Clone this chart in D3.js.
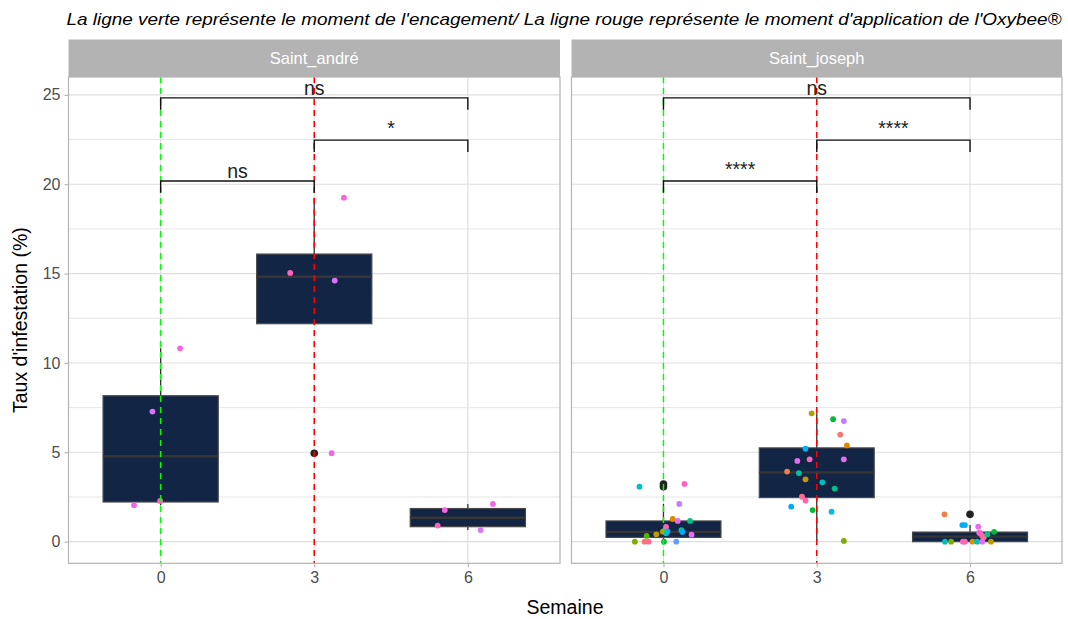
<!DOCTYPE html>
<html>
<head>
<meta charset="utf-8">
<script src="https://cdn.jsdelivr.net/npm/d3@7"></script>
<style>
  body { margin: 0; background: #fff; }
  text { font-family: "Liberation Sans", Arial, sans-serif; }
</style>
</head>
<body>
<script>
const width = 1068;
const height = 619;

// Saint_andré : semaine (groupe), position jitter, taux, couleur de la ruche
const andreGroupe = [0, 0, 0, 0, 3, 3, 3, 3, 6, 6, 6, 6];
const andreX = [-0.52, -0.01, -0.16, 0.38, 3.58, 2.53, 3.40, 3.34, 5.55, 5.41, 6.25, 6.49];
const andreTaux = [2.04, 2.28, 7.28, 10.82, 19.25, 15.04, 14.61, 4.95, 1.77, 0.90, 0.65, 2.11];
const andreCouleur = ["#F564E3", "#FF61C3", "#DB72FB", "#F564E3", "#F564E3", "#FF61C3", "#DB72FB", "#F564E3",
  "#F564E3", "#FF61C3", "#DB72FB", "#F564E3"];

// Saint_joseph
const josephGroupe = [
  0, 0, 0, 0, 0, 0, 0, 0, 0, 0, 0, 0, 0, 0, 0, 0, 0, 0, 0, 0,
  3, 3, 3, 3, 3, 3, 3, 3, 3, 3, 3, 3, 3, 3, 3, 3, 3, 3, 3, 3,
  6, 6, 6, 6, 6, 6, 6, 6, 6, 6, 6, 6, 6, 6, 6, 6, 6, 6];
const josephX = [
  -0.47, 0.41, 0.31, 0.18, 0.28, 0.52, 0.05, 0.08, 0.35, 0.37, 0.55, -0.14, -0.01, 0.05, -0.33, -0.56, -0.37, -0.29, 0.01, 0.25,
  2.90, 3.32, 3.53, 3.46, 3.59, 2.78, 2.62, 2.86, 3.53, 2.42, 2.65, 2.78, 3.11, 3.35, 2.71, 2.78, 2.50, 2.92, 3.29, 3.53,
  5.50, 5.85, 5.90, 6.16, 6.18, 6.20, 6.24, 6.27, 6.34, 6.47, 5.51, 5.63, 5.86, 5.90, 6.05, 6.14, 6.24, 6.41];
const josephTaux = [
  3.08, 3.23, 2.11, 1.27, 1.16, 1.16, 0.82, 0.58, 0.65, 0.54, 0.39, 0.41, 0.56, 0.47, 0.32, 0, 0, 0, 0, 0,
  7.18, 6.85, 6.75, 5.99, 5.39, 5.20, 4.52, 4.61, 4.61, 3.92, 3.84, 3.49, 3.32, 2.97, 2.52, 2.30, 1.96, 1.77, 1.68, 0.04,
  1.53, 0.93, 0.93, 0.84, 0.50, 0.47, 0.32, 0.25, 0.42, 0.55, 0, 0, 0, 0, 0, 0, 0, 0];
const josephCouleur = [
  "#00BFC4", "#FF61C3", "#C77CFF", "#E58700", "#E76BF3", "#00C08B", "#FF61C3", "#00B0F6", "#00C1A3", "#00A9FF",
  "#E76BF3", "#C49A00", "#C49A00", "#00BCD8", "#53B400", "#7CAE00", "#F8766D", "#FF6C91", "#00BA38", "#619CFF",
  "#B79F00", "#00BA38", "#C77CFF", "#F8766D", "#E58700", "#00B0F6", "#E76BF3", "#FF61C3", "#E76BF3", "#F07E45",
  "#00C1A3", "#C49A00", "#00BFC4", "#00C08B", "#FF6C91", "#FF64B0", "#00A9FF", "#00BA38", "#00BCD8", "#7CAE00",
  "#F07E45", "#00A9FF", "#00B0F6", "#E76BF3", "#DB72FB", "#FF61C3", "#FF64B0", "#FF6C91", "#00C08B", "#00BA38",
  "#00BFC4", "#7CAE00", "#FF61C3", "#FF64B0", "#C49A00", "#00BFC4", "#E76BF3", "#C49A00"];

// comparaisons (ggpubr)
const crochetDe = [0, 3, 0];
const crochetA = [6, 6, 3];
const crochetY = [24.83, 22.47, 20.18];
const andreSignif = ["ns", "*", "ns"];
const josephSignif = ["ns", "****", "****"];

const semaines = [0, 3, 6];
const yTicks = [0, 5, 10, 15, 20, 25];
const yMinor = [2.5, 7.5, 12.5, 17.5, 22.5];

const panels = [
  { nom: "Saint_andré", x0: 68.5, x1: 560, groupe: andreGroupe, xs: andreX, taux: andreTaux, col: andreCouleur, signif: andreSignif },
  { nom: "Saint_joseph", x0: 571.5, x1: 1062, groupe: josephGroupe, xs: josephX, taux: josephTaux, col: josephCouleur, signif: josephSignif }
];

const stripTop = 39.5, panelTop = 77, panelBottom = 563.3;

const svg = d3.select("body").append("svg").attr("width", width).attr("height", height);

const y = d3.scaleLinear().domain([-1.21, 26.0]).range([panelBottom, panelTop]);

// titre
const title = svg.append("text")
  .attr("x", 66.5).attr("y", 25)
  .attr("font-size", 16.5).attr("font-style", "italic").attr("fill", "#000")
  .text("La ligne verte représente le moment de l'encagement/ La ligne rouge représente le moment d'application de l'Oxybee®");
title.attr("textLength", 995).attr("lengthAdjust", "spacingAndGlyphs");

function boxStats(vals) {
  const s = vals.slice().sort(d3.ascending);
  const q1 = d3.quantile(s, 0.25), med = d3.quantile(s, 0.5), q3 = d3.quantile(s, 0.75);
  const iqr = q3 - q1;
  const inside = s.filter(v => v >= q1 - 1.5 * iqr && v <= q3 + 1.5 * iqr);
  return { q1, med, q3, lo: d3.min(inside), hi: d3.max(inside), out: s.filter(v => v < q1 - 1.5 * iqr || v > q3 + 1.5 * iqr) };
}

panels.forEach((p, pi) => {
  const x = d3.scaleLinear().domain([-1.8, 7.8]).range([p.x0, p.x1]);
  const g = svg.append("g");

  // strip
  g.append("rect").attr("x", p.x0).attr("y", stripTop).attr("width", p.x1 - p.x0).attr("height", panelTop - stripTop)
    .attr("fill", "#B3B3B3");
  g.append("text").attr("x", (p.x0 + p.x1) / 2).attr("y", (stripTop + panelTop) / 2 + 6)
    .attr("text-anchor", "middle").attr("font-size", 16.5).attr("fill", "#fff").text(p.nom);

  // grille
  g.selectAll(".minor").data(yMinor).join("line")
    .attr("x1", p.x0).attr("x2", p.x1).attr("y1", d => y(d)).attr("y2", d => y(d))
    .attr("stroke", "#E3E3E3").attr("stroke-width", 0.9);
  g.selectAll(".major").data(yTicks).join("line")
    .attr("x1", p.x0).attr("x2", p.x1).attr("y1", d => y(d)).attr("y2", d => y(d))
    .attr("stroke", "#DEDEDE").attr("stroke-width", 1.1);
  g.selectAll(".vmajor").data(semaines).join("line")
    .attr("x1", d => x(d)).attr("x2", d => x(d)).attr("y1", panelTop).attr("y2", panelBottom)
    .attr("stroke", "#DEDEDE").attr("stroke-width", 1.1);

  // boîtes
  semaines.forEach(s => {
    const vals = p.taux.filter((v, i) => p.groupe[i] === s);
    const b = boxStats(vals);
    const cx = x(s), half = x(s + 1.125) - cx;
    g.append("line").attr("x1", cx).attr("x2", cx).attr("y1", y(b.q3)).attr("y2", y(b.hi))
      .attr("stroke", "#333").attr("stroke-width", 1.3);
    g.append("line").attr("x1", cx).attr("x2", cx).attr("y1", y(b.q1)).attr("y2", y(b.lo))
      .attr("stroke", "#333").attr("stroke-width", 1.3);
    g.append("rect").attr("x", cx - half).attr("y", y(b.q3)).attr("width", 2 * half).attr("height", y(b.q1) - y(b.q3))
      .attr("fill", "#132545").attr("stroke", "#4a4a4a").attr("stroke-width", 1.2);
    g.append("line").attr("x1", cx - half).attr("x2", cx + half).attr("y1", y(b.med)).attr("y2", y(b.med))
      .attr("stroke", "#363636").attr("stroke-width", 2.4);
    g.selectAll(null).data(b.out).join("circle")
      .attr("cx", cx).attr("cy", d => y(d)).attr("r", 3.8).attr("fill", "#222");
  });

  // points jitter
  g.selectAll(".pt").data(p.taux).join("circle")
    .attr("cx", (d, i) => x(p.xs[i])).attr("cy", d => y(d)).attr("r", 2.9)
    .attr("fill", (d, i) => p.col[i]);

  // lignes verticales
  g.append("line").attr("x1", x(0)).attr("x2", x(0)).attr("y1", panelTop).attr("y2", panelBottom)
    .attr("stroke", "#00FF00").attr("stroke-width", 1.5).attr("stroke-dasharray", "6,5");
  g.append("line").attr("x1", x(3)).attr("x2", x(3)).attr("y1", panelTop).attr("y2", panelBottom)
    .attr("stroke", "#FF0000").attr("stroke-width", 1.5).attr("stroke-dasharray", "6,5");

  // crochets
  crochetY.forEach((cy, k) => {
    const xa = x(crochetDe[k]), xb = x(crochetA[k]);
    g.append("path")
      .attr("d", `M${xa},${y(cy - 0.66)}V${y(cy)}H${xb}V${y(cy - 0.66)}`)
      .attr("fill", "none").attr("stroke", "#111").attr("stroke-width", 1.4);
    const lab = p.signif[k];
    g.append("text").attr("x", (xa + xb) / 2).attr("y", lab === "ns" ? y(cy) - 3 : y(cy) - 5)
      .attr("text-anchor", "middle").attr("font-size", 19.5).attr("fill", "#222").text(lab);
  });

  // bordure
  g.append("rect").attr("x", p.x0).attr("y", panelTop).attr("width", p.x1 - p.x0).attr("height", panelBottom - panelTop)
    .attr("fill", "none").attr("stroke", "#B3B3B3").attr("stroke-width", 1.2);

  // axe x
  const ax = g.append("g").attr("transform", `translate(0,${panelBottom})`)
    .call(d3.axisBottom(x).tickValues(semaines).tickSize(4).tickPadding(4).tickFormat(d3.format("d")));
  ax.select(".domain").remove();
  ax.selectAll("line").attr("stroke", "#B3B3B3").attr("stroke-width", 1.1);
  ax.selectAll("text").attr("font-size", 16).attr("fill", "#4D4D4D").attr("font-family", "Liberation Sans, Arial, sans-serif");

  if (pi === 0) {
    const ay = g.append("g").attr("transform", `translate(${p.x0},0)`)
      .call(d3.axisLeft(y).tickValues(yTicks).tickSize(4).tickPadding(4));
    ay.select(".domain").remove();
    ay.selectAll("line").attr("stroke", "#B3B3B3").attr("stroke-width", 1.1);
    ay.selectAll("text").attr("font-size", 16).attr("fill", "#4D4D4D").attr("font-family", "Liberation Sans, Arial, sans-serif");
  }
});

// titres des axes
svg.append("text").attr("x", 565).attr("y", 614).attr("text-anchor", "middle")
  .attr("font-size", 19.5).attr("fill", "#000").text("Semaine");
svg.append("text").attr("transform", `translate(27,${(panelTop + panelBottom) / 2}) rotate(-90)`)
  .attr("text-anchor", "middle").attr("font-size", 19.5).attr("fill", "#000").text("Taux d'infestation (%)");
</script>
</body>
</html>
